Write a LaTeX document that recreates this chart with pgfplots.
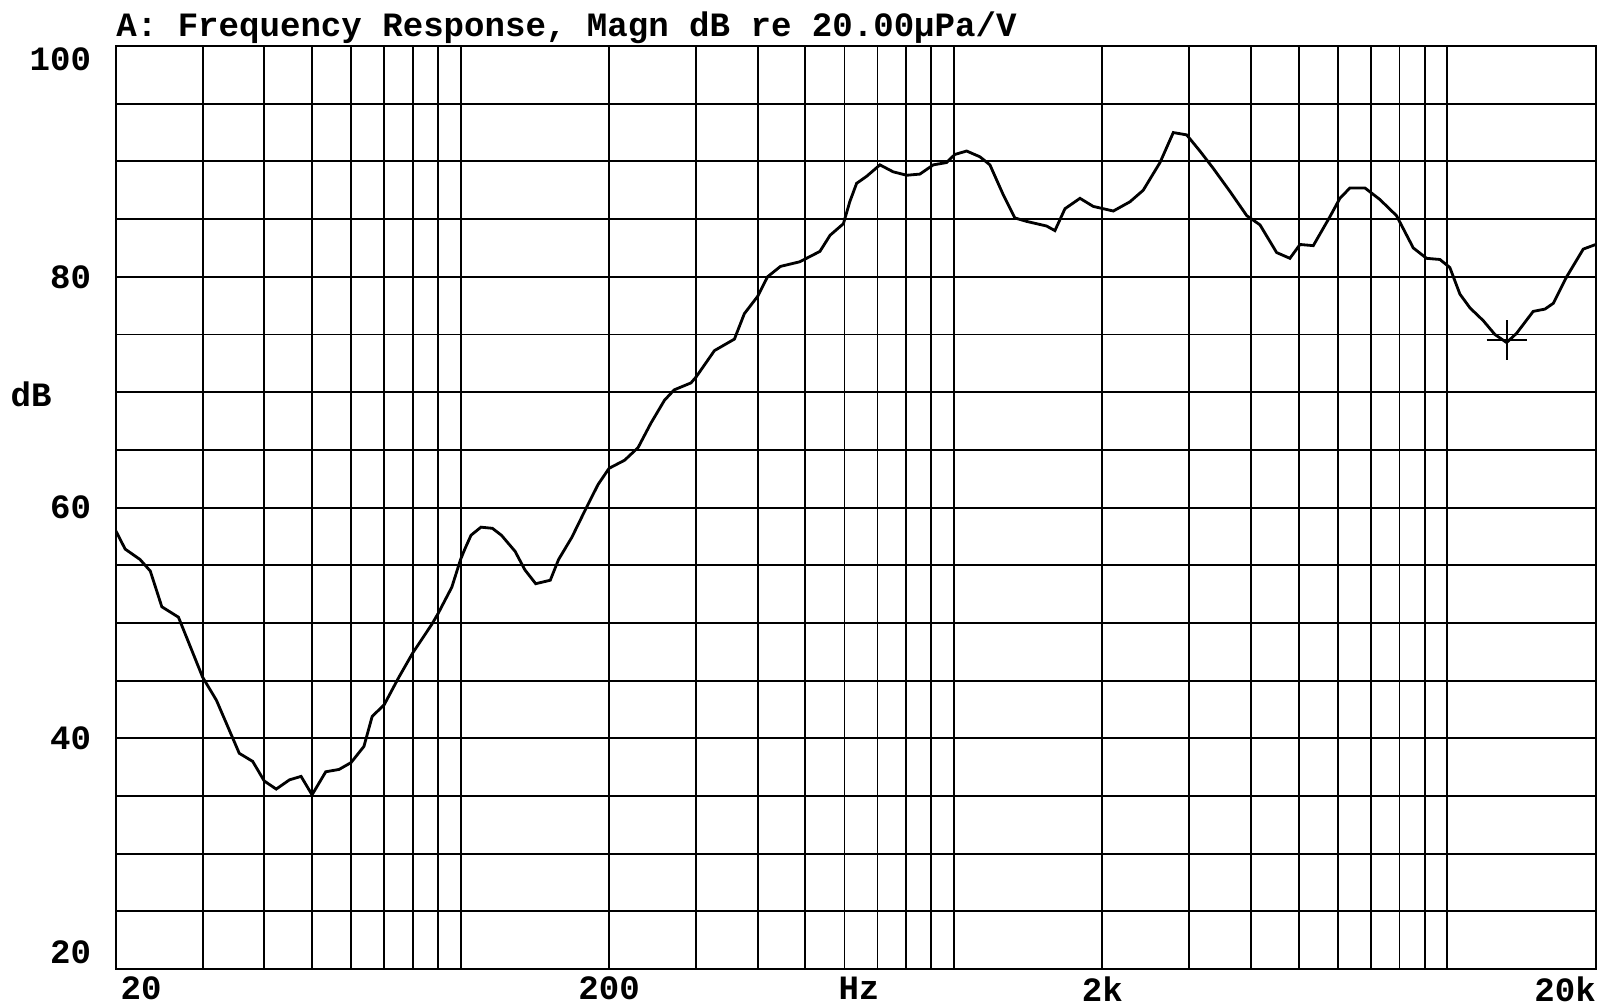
\documentclass[border=0pt]{standalone}
\usepackage{fontspec}
\setmainfont{Liberation Mono}
\usepackage{pgfplots}
\pgfplotsset{compat=1.18}
\begin{document}
\begin{tikzpicture}
\fontsize{9.7pt}{11pt}\selectfont\bfseries
\begin{axis}[
  at={(0,0)}, anchor=south west,
  scale only axis, width=14.80cm, height=9.23cm,
  xmode=log, xmin=20, xmax=20000, ymin=20, ymax=100,
  clip mode=individual,
  xtick={20,200,2000,20000},
  xticklabels={\makebox[0pt][l]{\hspace{0.05cm}20},200,2k,\makebox[0pt][r]{20k}},
  minor xtick={30,40,50,60,70,80,90,100,300,400,500,600,700,800,900,1000,3000,4000,5000,6000,7000,8000,9000,10000},
  extra x ticks={642},
  extra x tick labels={Hz},
  extra x tick style={grid=none, major tick length=0pt},
  ytick={20,40,60,80,100},
  yticklabels={\smash{\raisebox{1.5pt}{20}},40,60,80,\smash{\raisebox{-6.9pt}{100}}},
  minor ytick={25,30,35,45,50,55,65,70,75,85,90,95},
  grid=both,
  major grid style={black, line width=0.55pt},
  minor grid style={black, line width=0.55pt},
  axis line style={black, line width=0.65pt},
  major tick length=0pt, minor tick length=0pt,
  tick label style={font=\fontsize{9.7pt}{11pt}\selectfont\bfseries},
  xticklabel style={anchor=north, inner sep=0pt, yshift=-0.07cm},
  yticklabel style={anchor=east, inner sep=0pt, xshift=-0.24cm},
]
\addplot[black, line width=0.8pt] coordinates {
(20,58.0) (20.9,56.4) (22.4,55.5) (23.5,54.5) (24.8,51.4) (26.8,50.5)
(30,45.3) (32,43.3) (35.6,38.7) (37.9,38.0) (40,36.3) (42.3,35.6)
(45,36.4) (47.5,36.7) (50,35.1) (53.3,37.1) (56.7,37.3) (60,37.9)
(63.7,39.3) (66.2,41.9) (70,42.9) (75,45.3) (80,47.4) (87.5,49.9)
(90,50.8) (96,53.1) (100,55.5) (102,56.4) (105,57.6) (110,58.3)
(116,58.2) (121,57.6) (129,56.2) (135,54.6) (142,53.4) (152,53.7)
(158,55.5) (168,57.4) (179,59.8) (190,62.0) (200,63.4) (215,64.1)
(229,65.2) (243,67.3) (259,69.3) (271,70.2) (293,70.8) (300,71.3)
(327,73.6) (359,74.6) (376,76.8) (400,78.3) (419,80.0) (445,80.9)
(487,81.3) (535,82.2) (561,83.6) (597,84.6) (615,86.5) (635,88.1)
(665,88.7) (708,89.7) (753,89.1) (802,88.8) (853,88.9) (908,89.7)
(966,89.9) (1004,90.6) (1061,90.9) (1129,90.4) (1183,89.7) (1259,87.1)
(1329,85.1) (1404,84.8) (1471,84.6) (1541,84.4) (1602,84.0) (1679,85.9)
(1801,86.8) (1916,86.1) (2104,85.7) (2274,86.5) (2419,87.5) (2616,89.9)
(2784,92.5) (2963,92.3) (3152,90.9) (3354,89.4) (3626,87.4) (3922,85.3)
(4172,84.5) (4509,82.1) (4797,81.6) (5028,82.8) (5350,82.7) (5781,85.2)
(6058,86.8) (6348,87.7) (6808,87.7) (7300,86.7) (7890,85.3) (8532,82.5)
(9078,81.6) (9662,81.5) (10120,80.8) (10606,78.5) (11118,77.3) (11826,76.2)
(12487,75.0) (13190,74.3) (13818,75.1) (14930,77.0) (15771,77.2) (16399,77.7)
(17456,80.0) (18862,82.4) (20000,82.8)
};
\addplot[only marks, mark=+, mark size=0.2cm, mark options={line width=0.6pt, black}] coordinates {(13190,74.5)};
\node[anchor=base west, inner sep=0pt] at (rel axis cs:0,1) [yshift=0.092cm] {A: Frequency Response, Magn dB re 20.00µPa/V};
\node[inner sep=0pt] at (rel axis cs:0,0.623) [xshift=-0.847cm] {dB};
\end{axis}
\pgfresetboundingbox
\path (-1.157cm,-0.38cm) rectangle (14.882cm,9.69cm);
\end{tikzpicture}
\end{document}
